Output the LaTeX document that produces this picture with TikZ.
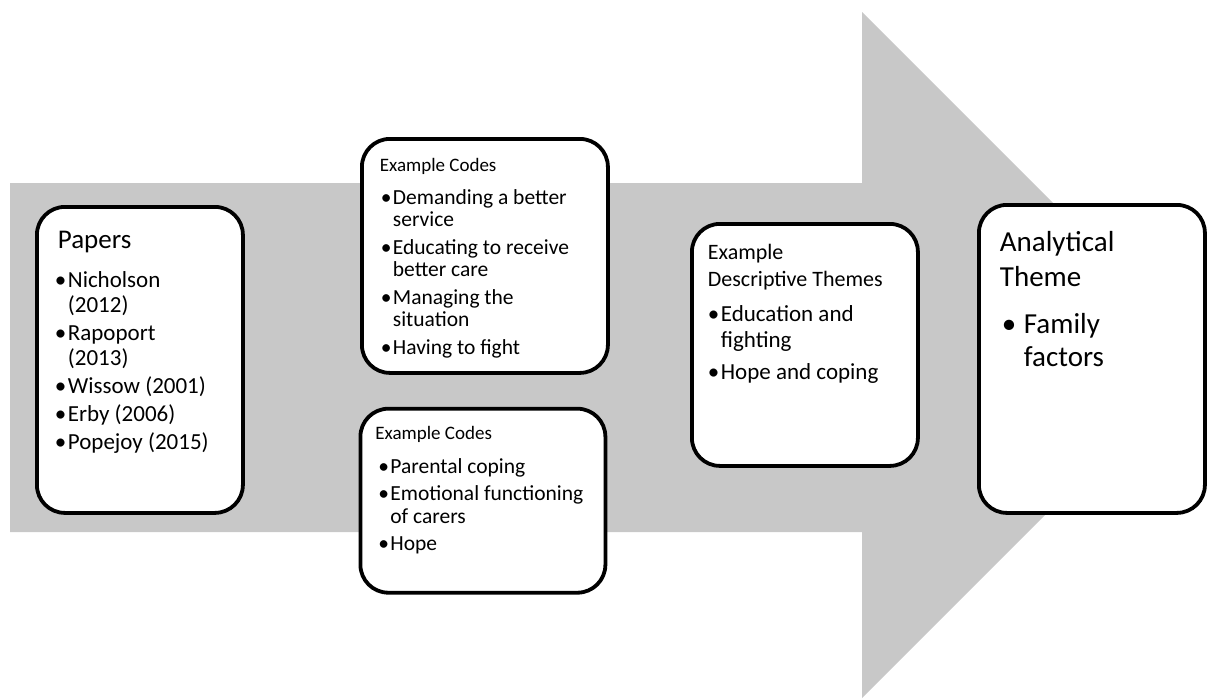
\documentclass[tikz,border=0pt]{standalone}
\usepackage{fontspec}
\setmainfont{Carlito}
\usetikzlibrary{positioning}
\definecolor{arrowgray}{RGB}{200,200,200}

\newcommand{\bitem}[3]{\par\hangindent=#2\hangafter=1\hspace*{#1}\makebox[\dimexpr#2-#1\relax][l]{\textbullet}#3}

\begin{document}
\begin{tikzpicture}[
  x=1pt, y=-1pt,
  card/.style={draw, line width=3.8pt, rounded corners=28pt, fill=white, inner sep=0pt, anchor=north west}
  ]

\useasboundingbox (0,0) rectangle (1208,699);

\fill[arrowgray] (10,183) -- (862,183) -- (862,12) -- (1205,355) -- (862,698) -- (862,532) -- (10,532) -- cycle;

\node[card] (papers) at (35,205) {\parbox[c][306pt][t]{206pt}{\leftskip=18pt \parskip=3pt
  {\fontsize{27}{30}\selectfont\hspace*{3pt}\rule{0pt}{42pt}Papers\par}
  \vspace{11pt}
  \fontsize{23}{25}\selectfont
  \bitem{0pt}{13pt}{Nicholson\newline (2012)}
  \bitem{0pt}{13pt}{Rapoport\newline (2013)}
  \bitem{0pt}{13pt}{Wissow (2001)}
  \bitem{0pt}{13pt}{Erby (2006)}
  \bitem{0pt}{13pt}{Popejoy (2015)}\par}};

\node[card] (codesa) at (360,137) {\parbox[c][234pt][t]{246pt}{\leftskip=18pt \parskip=5pt
  {\fontsize{19}{22}\selectfont\rule{0pt}{33pt}Example Codes\par}
  \vspace{5pt}
  \fontsize{21.5}{22.5}\selectfont
  \bitem{1pt}{13pt}{Demanding a better\newline service}
  \bitem{1pt}{13pt}{Educating to receive\newline better care}
  \bitem{1pt}{13pt}{Managing the\newline situation}
  \bitem{1pt}{13pt}{Having to fight}\par}};

\node[card, below=32pt of codesa, xshift=-2pt] (codesb) {\parbox[c][184pt][t]{245pt}{\leftskip=15pt \parskip=5pt
  {\fontsize{19}{22}\selectfont\rule{0pt}{31pt}Example Codes\par}
  \vspace{6pt}
  \fontsize{21.5}{22.5}\selectfont
  \bitem{3pt}{15pt}{Parental coping}
  \bitem{3pt}{15pt}{Emotional functioning\newline of carers}
  \bitem{3pt}{15pt}{Hope}\par}};

\node[card] (themes) at (690,222) {\parbox[c][242pt][t]{226pt}{\leftskip=16pt \parskip=6pt
  {\fontsize{22}{27}\selectfont\rule{0pt}{36pt}Example\newline Descriptive Themes\par}
  \vspace{3pt}
  \fontsize{23}{26}\selectfont
  \bitem{0pt}{13pt}{Education and\newline fighting}
  \bitem{0pt}{13pt}{Hope and coping}\par}};

\node[card] (analytical) at (977,203) {\parbox[c][308pt][t]{226pt}{\leftskip=21pt
  {\fontsize{29}{35}\selectfont\rule{0pt}{47pt}Analytical\newline Theme\par}
  \vspace{14pt}
  \fontsize{29}{33}\selectfont
  \bitem{2pt}{24pt}{Family\newline factors}\par}};

\end{tikzpicture}
\end{document}
